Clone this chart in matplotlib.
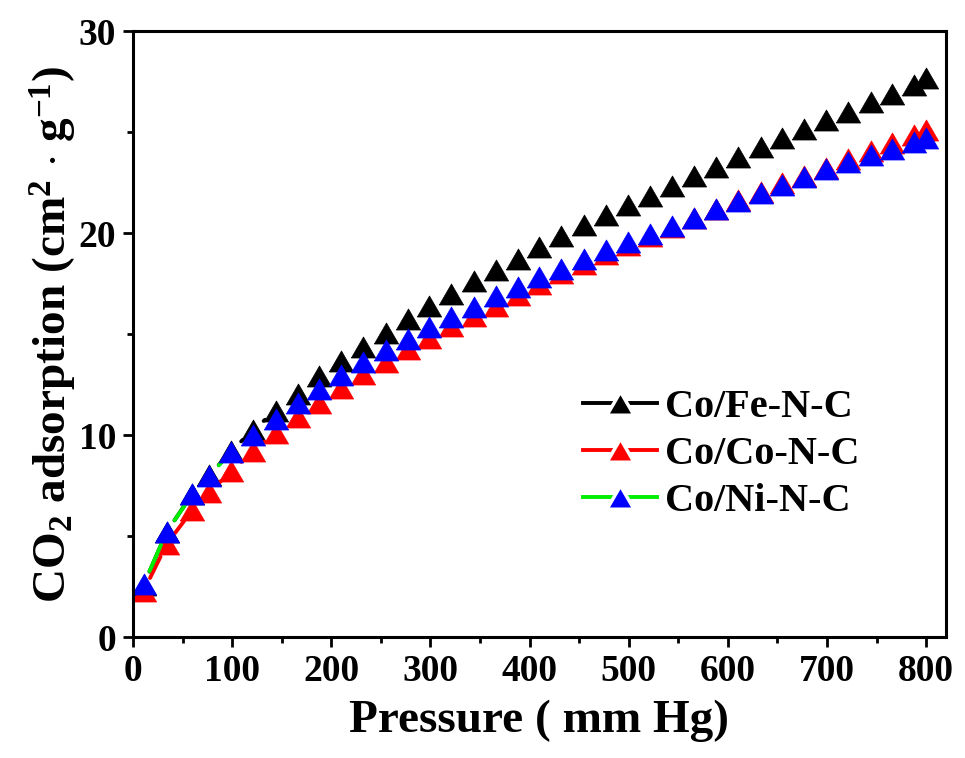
import numpy as np
import matplotlib
matplotlib.use('Agg')
import matplotlib.pyplot as plt
from matplotlib.lines import Line2D
from matplotlib.ticker import MultipleLocator

plt.rcParams['font.family'] = ['Liberation Serif', 'DejaVu Serif']
plt.rcParams['font.weight'] = 'bold'
plt.rcParams['mathtext.fontset'] = 'custom'
plt.rcParams['mathtext.rm'] = 'Liberation Serif:bold'
plt.rcParams['mathtext.bf'] = 'Liberation Serif:bold'
plt.rcParams['mathtext.default'] = 'rm'

# --------------------------------------------------------------
# CO2 uptake isotherms (mm Hg vs cm2/g)
# --------------------------------------------------------------

pressure = [11, 34, 60, 77, 99, 121, 144, 166, 188, 210, 232, 255, 277, 299,
            321, 344, 366, 388, 410, 432, 455, 477, 499, 521, 544, 566, 588,
            610, 633, 655, 677, 699, 721, 744, 766, 788, 800]

co_fe = [2.6, 5.2, 7.1, 8.0, 9.2, 10.25, 11.2, 12.05, 12.9, 13.65, 14.37, 15.06,
         15.74, 16.39, 17.0, 17.6, 18.17, 18.72, 19.29, 19.85, 20.4, 20.9, 21.39,
         21.83, 22.33, 22.8, 23.25, 23.75, 24.24, 24.69, 25.15, 25.6, 26.0, 26.47,
         26.9, 27.33, 27.66]

co_co = [2.3, 4.6, 6.29, 7.18, 8.2, 9.2, 10.1, 10.9, 11.6, 12.32, 13.0, 13.63,
         14.25, 14.8, 15.38, 15.89, 16.4, 16.93, 17.46, 18.0, 18.47, 18.96, 19.4,
         19.85, 20.3, 20.74, 21.2, 21.62, 22.05, 22.47, 22.83, 23.2, 23.65, 24.05,
         24.45, 24.87, 25.1]

co_ni = [2.62, 5.21, 7.08, 7.99, 9.16, 10.0, 10.79, 11.6, 12.3, 12.99, 13.63, 14.2,
         14.77, 15.36, 15.86, 16.35, 16.88, 17.34, 17.8, 18.24, 18.7, 19.16, 19.57,
         19.93, 20.33, 20.74, 21.17, 21.6, 22.0, 22.4, 22.77, 23.15, 23.5, 23.84,
         24.17, 24.5, 24.7]

labels = ['Co/Fe-N-C', 'Co/Co-N-C', 'Co/Ni-N-C']
line_colors = ['black', 'red', '#00ee00']
marker_colors = ['black', 'red', 'blue']

# equilateral triangle, bbox centred on the data point
tri = [(-1, -0.866), (1, -0.866), (0, 0.866), (-1, -0.866)]
MS = 17.5
LW = 2.8
GAP = 14  # px left clear around each symbol


def gapped_line(ax, xs, ys, color):
    # connecting segments stop short of each symbol
    pts = ax.transData.transform(np.column_stack([xs, ys]))
    inv = ax.transData.inverted()
    for p0, p1 in zip(pts[:-1], pts[1:]):
        d = p1 - p0
        length = np.hypot(d[0], d[1])
        if length <= 2 * GAP:
            continue
        u = d / length
        a = inv.transform(p0 + u * GAP)
        b = inv.transform(p1 - u * GAP)
        ax.plot([a[0], b[0]], [a[1], b[1]], color=color, lw=LW,
                solid_capstyle='round')


fig = plt.figure(figsize=(9.65, 7.58), dpi=100)
ax = fig.add_axes([0.1378, 0.1596, 0.8425, 0.7995])
ax.set_xlim(0, 820)
ax.set_ylim(0, 30)

handles = []
for ys, lab, lc, mc in zip([co_fe, co_co, co_ni], labels, line_colors, marker_colors):
    gapped_line(ax, pressure, ys, lc)
    ax.plot(pressure, ys, ls='none', marker=tri, ms=MS,
            markerfacecolor=mc, markeredgecolor=mc, markeredgewidth=0.5)
    handles.append(Line2D([], [], color=lc, lw=LW, marker=tri, ms=MS + 2,
                          markerfacecolor=mc, markeredgecolor='white',
                          markeredgewidth=2.5, label=lab))

ax.xaxis.set_major_locator(MultipleLocator(100))
ax.xaxis.set_minor_locator(MultipleLocator(50))
ax.yaxis.set_major_locator(MultipleLocator(10))
ax.yaxis.set_minor_locator(MultipleLocator(5))
ax.tick_params(which='major', direction='out', length=7, width=2, labelsize=27, pad=5)
ax.tick_params(which='minor', direction='out', length=4, width=2)
for s in ax.spines.values():
    s.set_linewidth(2.2)

ax.set_xlabel('Pressure ( mm Hg)', fontsize=34, fontweight='bold', labelpad=8)
ax.set_ylabel(r'CO$_2$ adsorption (cm$^2$ $\cdot$ g$^{-1}$)', fontsize=34,
              fontweight='bold', labelpad=0)

ax.legend(handles=handles, loc='upper left', bbox_to_anchor=(0.553, 0.41),
          frameon=False, fontsize=29, handlelength=1.85, handletextpad=0.2,
          labelspacing=0.25, borderpad=0, borderaxespad=0)

fig.savefig('out.png', dpi=100)
